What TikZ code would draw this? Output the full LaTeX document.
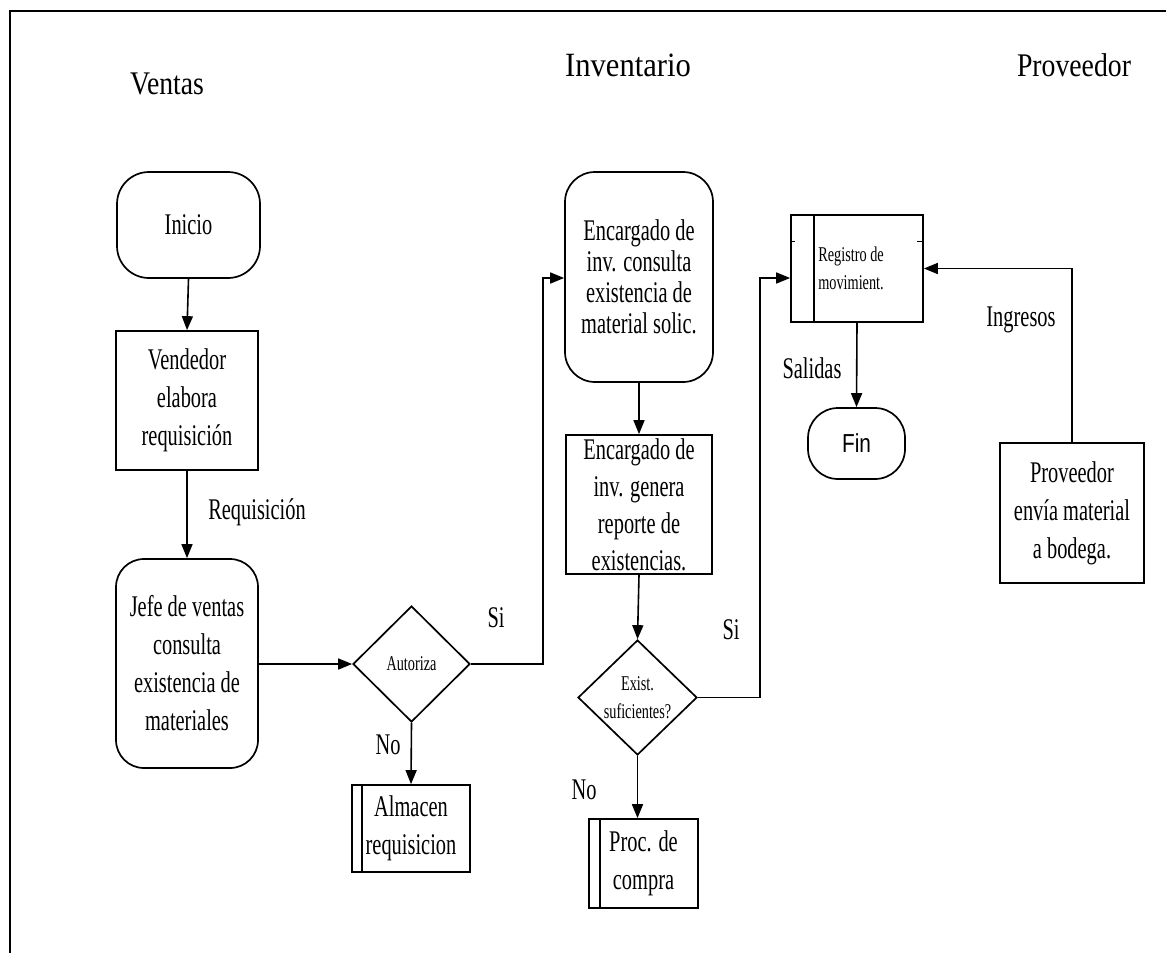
\documentclass[tikz,border=0pt]{standalone}
\usepackage{fontspec}
\setmainfont{Liberation Serif}
\newfontfamily\condserif[FakeStretch=0.68]{Liberation Serif}
\newfontfamily\titleserif[FakeStretch=0.84]{Liberation Serif}
\newfontfamily\widetitleserif[FakeStretch=0.9]{Liberation Serif}
\newfontfamily\condsans[FakeStretch=0.8]{Liberation Sans}
\usetikzlibrary{shapes.geometric,arrows.meta}

\begin{document}
\begin{tikzpicture}[x=1pt,y=-1pt,
  every node/.style={inner sep=0pt},
  line/.style={line width=1.6pt},
  flow/.style={line, -{Triangle[length=14pt,width=11pt]}},
  txt/.style={font={\condserif\fontsize{30}{38}\selectfont}, align=center},
  smalltxt/.style={font={\condserif\fontsize{21}{28}\selectfont}, align=center},
  title/.style={font={\titleserif\fontsize{33}{36}\selectfont}, anchor=base},
  box/.style={txt, draw, line width=1.7pt, rectangle},
  roundbox/.style={box, rounded corners=30pt},
  decision/.style={smalltxt, draw, line width=1.7pt, diamond},
  procbox/.style={box}
]
\useasboundingbox (0,0) rectangle (1166,953);

% page frame
\draw[line width=2.2pt] (1166,11) -- (10,11) -- (10,953);

% lane titles
\node[title] (tv) at (167,94) {Ventas};
\node[title, font={\widetitleserif\fontsize{34}{36}\selectfont}] (ti) at (628,76) {Inventario};
\node[title] (tp) at (1074,76) {Proveedor};

% Ventas lane
\node[roundbox, minimum width=143pt, minimum height=106pt, rounded corners=32pt] (inicio) at (188.5,225) {Inicio};
\node[box, minimum width=142pt, minimum height=139pt] (vend) at (187,400.5) {Vendedor\\elabora\\requisición};
\node[roundbox, minimum width=142pt, minimum height=209pt, rounded corners=28pt] (jefe) at (187,663.5) {Jefe de ventas\\consulta\\existencia de\\materiales};
\node[decision, minimum width=117pt, minimum height=116pt] (aut) at (411.5,664) {Autoriza};
\node[procbox, minimum width=118pt, minimum height=87pt] (alm) at (411,828.5) {Almacen\\requisicion};
\draw[line width=1.7pt] ([xshift=11pt]alm.north west) -- ([xshift=11pt]alm.south west);

% Inventario lane
\node[roundbox, minimum width=148pt, minimum height=210pt, font={\condserif\fontsize{30}{31}\selectfont}] (enc1) at (639,277) {Encargado de\\inv. consulta\\existencia de\\material solic.};
\node[box, minimum width=146pt, minimum height=139pt, font={\condserif\fontsize{30}{37}\selectfont}] (enc2) at (639,504.5) {Encargado de\\inv. genera\\reporte de\\existencias.};
\node[decision, minimum width=119pt, minimum height=115pt] (exist) at (637.5,697.5) {Exist.\\suficientes?};
\node[procbox, minimum width=109pt, minimum height=89pt] (proc) at (643.5,863.5) {Proc. de\\compra};
\draw[line width=1.7pt] ([xshift=12pt]proc.north west) -- ([xshift=12pt]proc.south west);

% Registro and end
\node[smalltxt, draw, line width=1.7pt, rectangle, minimum width=132pt, minimum height=107pt] (reg) at (857,268.5) {\hspace*{-12pt}Registro de\\\hspace*{-12pt}movimient.};
\draw[line width=1.7pt] ([xshift=24pt]reg.north west) -- ([xshift=24pt]reg.south west);
\draw[line width=1.2pt] ([yshift=-27pt]reg.north west) -- ++(5,0);
\draw[line width=1.2pt] ([yshift=-27pt]reg.north east) -- ++(-7,0);
\node[draw, line width=1.7pt, rectangle, rounded corners=30pt, minimum width=97pt, minimum height=71pt, font={\condsans\fontsize{26}{30}\selectfont}] (fin) at (856.5,443.5) {Fin};

% Proveedor lane
\node[box, minimum width=144pt, minimum height=140pt] (prov) at (1072,513) {Proveedor\\envía material\\a bodega.};

% connectors
\draw[flow] (inicio.south) -- (vend.north);
\draw[flow] (vend.south) -- (jefe.north);
\draw[flow] (jefe.east |- aut.west) -- (aut.west);
\coordinate (sa) at (543,278);
\draw[flow] (aut.east) -| (sa) -- (sa -| enc1.west);
\draw[flow] (aut.south) -- (alm.north);
\draw[flow] (enc1.south) -- (enc2.north);
\draw[flow] (enc2.south) -- (exist.north);
\coordinate (sb) at (760,278);
\draw[flow] (exist.east) -| (sb) -- (sb -| reg.west);
\draw[flow] (exist.south) -- (exist.south |- proc.north);
\draw[flow] (reg.south) -- (fin.north);
\draw[flow] (prov.north) |- (reg.east);

% connector labels
\node[txt] (lreq) at (257,512) {Requisición};
\node[txt] (lsi1) at (496,618) {Si};
\node[txt] (lno1) at (388,745) {No};
\node[txt] (lsi2) at (731,630) {Si};
\node[txt] (lno2) at (584,790) {No};
\node[txt] (lsal) at (812,368) {Salidas};
\node[txt] (ling) at (1021,320) {Ingresos};
\end{tikzpicture}
\end{document}
